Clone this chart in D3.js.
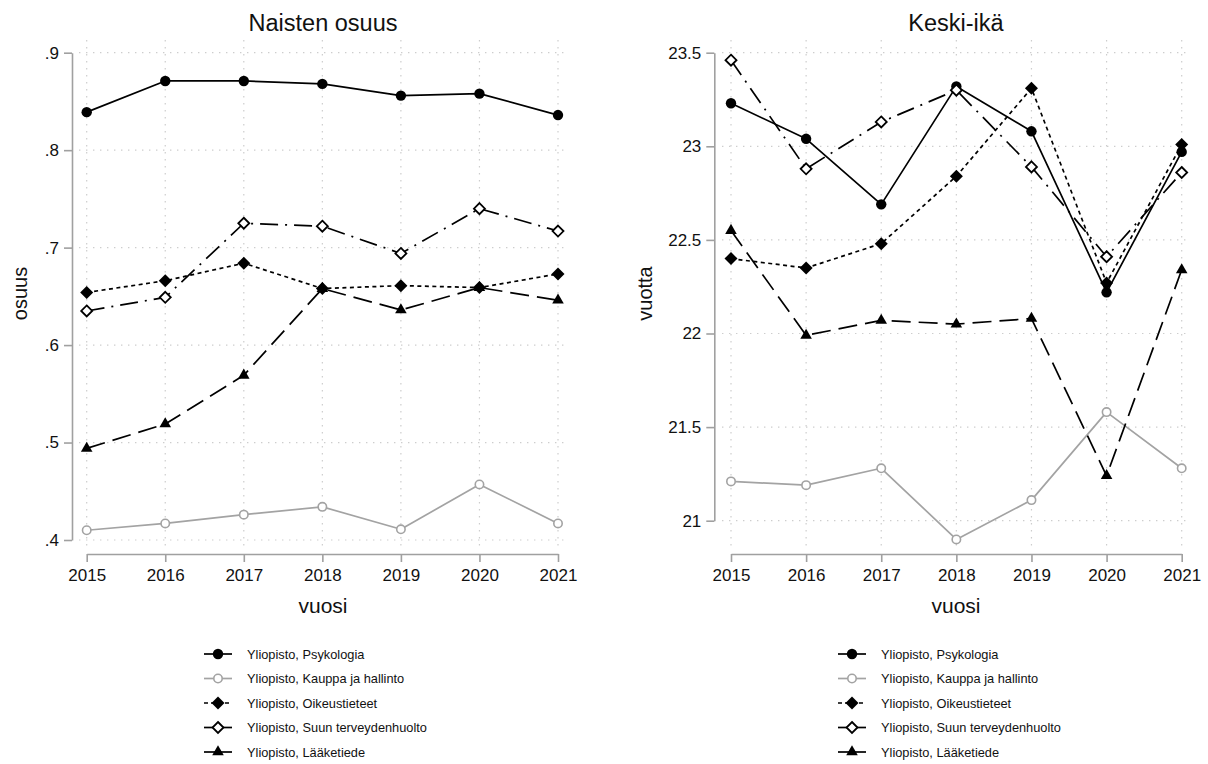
<!DOCTYPE html>
<html><head><meta charset="utf-8">
<script src="https://cdn.jsdelivr.net/npm/d3@7"></script>
<style>body{margin:0;background:#fff} svg{display:block;font-family:"Liberation Sans",Arial,sans-serif}</style>
</head><body><svg id="c" width="1208" height="764"></svg>
<script>
const years = [2015,2016,2017,2018,2019,2020,2021];
const seriesLabels = ["Yliopisto, Psykologia","Yliopisto, Kauppa ja hallinto","Yliopisto, Oikeustieteet","Yliopisto, Suun terveydenhuolto","Yliopisto, Lääketiede"];
// Naisten osuus
const sharePsykologia = [.839,.871,.871,.868,.856,.858,.836];
const shareKauppa     = [.410,.417,.426,.434,.411,.457,.417];
const shareOikeus     = [.654,.666,.684,.658,.661,.659,.673];
const shareSuun       = [.635,.649,.725,.722,.694,.740,.717];
const shareLaake      = [.494,.519,.569,.658,.636,.659,.646];
// Keski-ikä
const agePsykologia = [23.23,23.04,22.69,23.32,23.08,22.22,22.97];
const ageKauppa     = [21.21,21.19,21.28,20.90,21.11,21.58,21.28];
const ageOikeus     = [22.40,22.35,22.48,22.84,23.31,22.27,23.01];
const ageSuun       = [23.46,22.88,23.13,23.30,22.89,22.41,22.86];
const ageLaake      = [22.55,21.99,22.07,22.05,22.08,21.24,22.34];
const shareTicks = [.4,.5,.6,.7,.8,.9];
const ageTicks = [21,21.5,22,22.5,23,23.5];

const styles = [
  {stroke:"#000", dash:null, marker:"circle", fill:"#000", mstroke:"#000"},
  {stroke:"#a3a3a3", dash:null, marker:"ocircle", fill:"#fff", mstroke:"#a3a3a3"},
  {stroke:"#000", dash:"4,3.5", marker:"diamond", fill:"#000", mstroke:"#000"},
  {stroke:"#000", dash:"18,7,2,7", marker:"diamond", fill:"#fff", mstroke:"#000"},
  {stroke:"#000", dash:"19,8", marker:"triangle", fill:"#000", mstroke:"#000"}
];

const svg = d3.select("#c");

function drawMarker(g, type, st, x, y){
  if(type==="circle"){
    g.append("circle").attr("cx",x).attr("cy",y).attr("r",5.2).attr("fill",st.fill);
  } else if(type==="ocircle"){
    g.append("circle").attr("cx",x).attr("cy",y).attr("r",4.2).attr("fill","#fff").attr("stroke",st.mstroke).attr("stroke-width",1.6);
  } else if(type==="diamond"){
    const s = st.fill==="#000" ? 6.5 : 5.5;
    g.append("path").attr("d",`M${x},${y-s}L${x+s},${y}L${x},${y+s}L${x-s},${y}Z`)
      .attr("fill",st.fill).attr("stroke",st.mstroke).attr("stroke-width",st.fill==="#000"?0:1.8);
  } else if(type==="triangle"){
    g.append("path").attr("d",d3.symbol(d3.symbolTriangle,58)()).attr("transform",`translate(${x},${y})`).attr("fill",st.fill);
  }
}

function panel(opt){
  const g = svg.append("g");
  const x = d3.scalePoint().domain(years).range(opt.xr);
  const y = d3.scaleLinear().domain(opt.yd).range(opt.yr);
  const [px0,px1] = opt.plotX, [py0,py1] = [40,547];
  // grid
  g.selectAll(".hg").data(opt.ticks).join("line")
    .attr("x1",px0).attr("x2",px1).attr("y1",d=>y(d)).attr("y2",d=>y(d))
    .attr("stroke","#cdcdcd").attr("stroke-width",1.2).attr("stroke-dasharray","1.4,5.6");
  g.selectAll(".vg").data(years).join("line")
    .attr("x1",d=>x(d)).attr("x2",d=>x(d)).attr("y1",py0).attr("y2",py1)
    .attr("stroke","#cdcdcd").attr("stroke-width",1.2).attr("stroke-dasharray","1.4,5.6");
  // y axis
  const ya = g.append("g").attr("transform",`translate(${opt.axisX},0)`)
    .call(d3.axisLeft(y).tickValues(opt.ticks).tickSize(8).tickSizeOuter(0).tickPadding(5).tickFormat(opt.fmt));
  ya.select(".domain").attr("stroke","#a0a0a0").attr("stroke-width",1.6);
  ya.selectAll(".tick line").attr("stroke","#a0a0a0").attr("stroke-width",1.6);
  ya.selectAll("text").attr("font-size",17).attr("fill","#111").attr("font-family","Liberation Sans, Arial, sans-serif");
  // x axis
  const xa = g.append("g").attr("transform",`translate(0,554)`)
    .call(d3.axisBottom(x).tickSize(8).tickSizeOuter(0).tickPadding(7));
  xa.select(".domain").attr("stroke","#a0a0a0").attr("stroke-width",1.6);
  xa.selectAll(".tick line").attr("stroke","#a0a0a0").attr("stroke-width",1.6);
  xa.selectAll("text").attr("font-size",17).attr("fill","#111").attr("font-family","Liberation Sans, Arial, sans-serif");
  // titles
  const cx = (px0+px1)/2;
  g.append("text").attr("x",cx).attr("y",31).attr("text-anchor","middle").attr("font-size",23.5).attr("fill","#111").text(opt.title);
  g.append("text").attr("x",cx).attr("y",613).attr("text-anchor","middle").attr("font-size",21).attr("fill","#111").text("vuosi");
  g.append("text").attr("transform",`translate(${opt.ytX},${(py0+py1)/2}) rotate(-90)`).attr("text-anchor","middle").attr("font-size",20).attr("fill","#111").text(opt.ytitle);
  // series
  opt.series.forEach((vals,i)=>{
    const st = styles[i];
    const line = d3.line().x((d,j)=>x(years[j])).y(d=>y(d));
    g.append("path").attr("d",line(vals)).attr("fill","none").attr("stroke",st.stroke)
      .attr("stroke-width",1.7).attr("stroke-dasharray",st.dash).attr("stroke-linejoin","round");
    const mg = g.append("g");
    vals.forEach((v,j)=>drawMarker(mg, st.marker, st, x(years[j]), y(v)));
  });
  // legend
  const lg = g.append("g");
  seriesLabels.forEach((lab,i)=>{
    const st = styles[i];
    const ly = 654 + 24.5*i;
    lg.append("line").attr("x1",opt.legX).attr("x2",opt.legX+28).attr("y1",ly).attr("y2",ly)
      .attr("stroke",st.stroke).attr("stroke-width",1.7).attr("stroke-dasharray", i===2 ? "4,3" : null);
    drawMarker(lg, st.marker, st, opt.legX+14, ly);
    lg.append("text").attr("x",opt.legX+43).attr("y",ly+4.5).attr("font-size",12.8).attr("fill","#111").text(lab);
  });
}

panel({title:"Naisten osuus", ytitle:"osuus", xr:[86.7,558], yd:[.4,.9], yr:[540,52.7], plotX:[79,567], axisX:72, ticks:shareTicks,
  fmt:d=>d3.format(".1f")(d).replace(/^0/,""), ytX:27, legX:204,
  series:[sharePsykologia,shareKauppa,shareOikeus,shareSuun,shareLaake]});
panel({title:"Keski-ikä", ytitle:"vuotta", xr:[731,1181.7], yd:[21,23.5], yr:[520.7,52.7], plotX:[722,1190], axisX:714.3, ticks:ageTicks,
  fmt:d=>String(d), ytX:652, legX:838,
  series:[agePsykologia,ageKauppa,ageOikeus,ageSuun,ageLaake]});
</script></body></html>
